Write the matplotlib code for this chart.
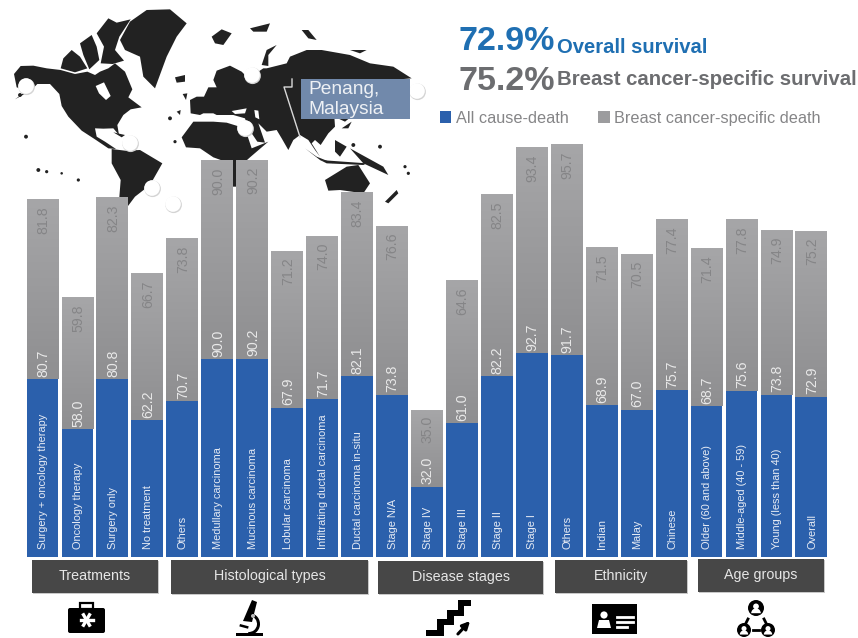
import numpy as np
import matplotlib
matplotlib.use("Agg")
import matplotlib.pyplot as plt
from matplotlib.patches import Polygon, Rectangle, Circle, FancyBboxPatch, Wedge
from matplotlib.colors import LinearSegmentedColormap

categories = ["Surgery + oncology therapy", "Oncology therapy", "Surgery only", "No treatment",
              "Others", "Medullary carcinoma", "Mucinous carcinoma", "Lobular carcinoma",
              "Infiltrating ductal carcinoma", "Ductal carcinoma in-situ",
              "Stage N/A", "Stage IV", "Stage III", "Stage II", "Stage I",
              "Others", "Indian", "Malay", "Chinese",
              "Older (60 and above)", "Middle-aged (40 - 59)", "Young (less than 40)", "Overall"]
all_cause = [80.7, 58.0, 80.8, 62.2, 70.7, 90.0, 90.2, 67.9, 71.7, 82.1,
             73.8, 32.0, 61.0, 82.2, 92.7, 91.7, 68.9, 67.0, 75.7, 68.7, 75.6, 73.8, 72.9]
breast = [81.8, 59.8, 82.3, 66.7, 73.8, 90.0, 90.2, 71.2, 74.0, 83.4,
          76.6, 35.0, 64.6, 82.5, 93.4, 95.7, 71.5, 70.5, 77.4, 71.4, 77.8, 74.9, 75.2]
series_names = ["All cause-death", "Breast cancer-specific death"]
group_names = ["Treatments", "Histological types", "Disease stages", "Ethnicity", "Age groups"]

ARIAL = ["Liberation Sans", "DejaVu Sans"]
BLUE, GREY = "#2b60ac", "#9c9c9e"
DARK = "#222222"

W, H = 858, 638
fig = plt.figure(figsize=(W / 100, H / 100), dpi=100, facecolor="white")

# Decoration layer in pixel coordinates
deco = fig.add_axes([0, 0, 1, 1], zorder=1)
deco.set_xlim(0, W); deco.set_ylim(H, 0); deco.axis("off")

def land(pts, color=DARK, z=1):
    deco.add_patch(Polygon(np.array(pts, float) / 3, closed=True, fc=color, ec="none", zorder=z))

# North America
land([(42,222),(62,198),(100,197),(140,205),(182,210),(225,222),(262,215),(285,225),(300,215),(325,205),(345,190),(375,215),(397,268),(385,292),(425,322),(392,328),(370,345),(352,375),(357,405),(340,385),(310,386),(285,385),(290,410),(315,425),(348,447),(325,445),(285,418),(245,392),(205,350),(185,318),(178,282),(150,252),(112,252),(92,272),(45,298),(80,272),(50,262)])
land([(287,258),(312,247),(332,288),(318,300),(297,280)], "white", 2)
# Arctic Canada
land([(182,205),(190,175),(215,150),(240,170),(262,205),(225,217)])
land([(240,130),(275,105),(290,140),(298,180),(268,208),(250,165)])
land([(290,100),(325,55),(350,68),(392,58),(358,110),(345,150),(372,182),(338,192),(302,190),(312,140)])
# Greenland and Iceland
land([(360,120),(390,65),(440,30),(510,28),(560,70),(530,110),(500,170),(465,265),(430,230),(420,170),(375,150)])
land([(525,232),(555,225),(555,245),(530,248)])
# Caribbean
land([(340,397),(375,405),(365,412)])
# South America
land([(335,447),(375,452),(420,450),(487,490),(450,555),(405,590),(375,630),(355,630),(362,540),(335,490)])
# Eurasia
land([(572,340),(570,300),(590,290),(612,290),(625,262),(650,262),(640,240),(650,212),(690,197),(725,215),(745,235),(790,205),(800,205),(860,190),(870,170),(920,150),(965,150),(1050,165),(1110,190),(1180,200),(1235,235),(1200,238),(1180,290),(1060,345),(1035,365),(1003,350),(1005,380),(985,400),(962,435),(945,420),(935,430),(960,470),(945,450),(925,420),(900,405),(880,420),(865,450),(845,415),(830,390),(800,395),(775,370),(795,428),(772,425),(745,385),(735,355),(700,345),(650,345),(640,340),(610,340),(600,345)])
land([(695,333),(740,325),(735,340),(705,342)], "white", 2)
land([(763,330),(775,332),(778,358),(766,352)], "white", 2)
land([(785,195),(800,150),(830,135),(805,165),(805,198)])
# Africa
land([(545,412),(580,365),(640,365),(680,368),(735,385),(755,445),(805,425),(750,472),(730,490),(735,560),(685,560),(690,490),(640,472),(600,445),(558,442)])
# Arctic islands
land([(635,110),(665,88),(695,100),(670,135),(645,130)])
land([(905,90),(925,90),(950,120),(925,115)])
land([(1050,150),(1100,150),(1080,160)])
land([(750,85),(810,70),(800,95),(760,95)])
land([(548,282),(562,280),(558,300)])
land([(530,335),(542,330),(540,345)])
# South-East Asia and Oceania
land([(915,445),(960,480),(1000,490),(950,470)])
land([(960,480),(1100,490),(1090,495),(980,490)])
land([(1005,420),(1040,440),(1020,470),(1005,455)])
land([(1050,445),(1150,500),(1165,525),(1090,490)])
land([(1025,385),(1055,365),(1045,385)])
land([(975,540),(1040,500),(1075,495),(1110,550),(1090,580),(1020,570),(985,572)])
land([(1155,605),(1190,570),(1195,580),(1165,610)])
for cx, cy, r in [(78,410,4),(115,510,4),(140,515,3),(510,355,4),(1140,440,4),(1215,500,3),(1225,520,3),(1060,435,4),(60,285,4),(525,425,3),(235,540,3),(185,520,2)]:
    deco.add_patch(Circle((cx / 3, cy / 3), r / 3 + .6, fc=DARK, ec="none", zorder=1))
for cx, cy in [(26,86),(130,143),(252,75),(245,128),(417,91),(152,188),(173,204)]:
    deco.add_patch(Circle((cx + .6, cy + .8), 8.3, fc="#d4d4d4", ec="none", zorder=3))
    deco.add_patch(Circle((cx, cy), 7.8, fc="white", ec="none", zorder=3))
deco.plot([292, 292, 284, 300], [79, 87, 87, 137], color="#d9d9d9", lw=1, zorder=4)
deco.add_patch(Rectangle((301, 79), 109, 40, fc="#7189ab", ec="none", zorder=4))
deco.text(308, 99.5, "Penang,\nMalaysia", family=ARIAL, fontsize=13.8, color="#eef1f5",
          va="center", ha="left", linespacing=1.2, zorder=5)

# Chart: one bar per category, stacked
PX_UNIT, PX_STEP, X0, BASE = 2.2, 34.95, 42.5, 557
ax = fig.add_axes([0, 0, 1, 1], zorder=2)
ax.patch.set_alpha(0)
xlim = (-X0 / PX_STEP, (W - X0) / PX_STEP)
ylim = (-(H - BASE) / PX_UNIT, BASE / PX_UNIT)
ax.axis("off")
x = np.arange(len(categories))
a = np.array(all_cause); b = np.array(breast)
b1 = ax.bar(x, a, width=0.91, color=BLUE, label=series_names[0])
b2 = ax.bar(x, b, width=0.91, bottom=a, color=GREY, label=series_names[1])
# subtle vertical shading on the grey segments, darker near the blue
shade = np.linspace(0, 1, 64).reshape(-1, 1)
grey_map = LinearSegmentedColormap.from_list("g", ["#8f8f91", "#a6a6a8"])
for i in x:
    ax.imshow(shade, extent=(i - .455, i + .455, a[i], a[i] + b[i]), origin="lower",
              cmap=grey_map, aspect="auto", zorder=1.5)
ax.set_xlim(*xlim)
ax.set_ylim(*ylim)
for i in x:
    ax.text(i + 0.02, 3.5, categories[i], rotation=90, ha="center", va="bottom",
            family=ARIAL, fontsize=7.9, color="#e6ebf4", zorder=3)
    ax.text(i + 0.02, a[i] + 1, f"{a[i]:.1f}", rotation=90, ha="center", va="bottom",
            family=ARIAL, fontsize=10.2, color="#e9e9e9", zorder=3)
    ax.text(i + 0.02, a[i] + b[i] - 3, f"{b[i]:.1f}", rotation=90, ha="center", va="top",
            family=ARIAL, fontsize=10.2, color="#858587", zorder=3)
leg = ax.legend(handles=[b1, b2], ncols=2, loc="upper left",
                bbox_to_anchor=(425 / W, 1 - 96 / H), frameon=False, handlelength=0.72,
                handleheight=0.72, handletextpad=0.28, columnspacing=1.8,
                prop={"family": ARIAL, "size": 11.7})
for t in leg.get_texts():
    t.set_color("#858587")

# Headline
BLUE_T, GREY_T = "#1f6fb2", "#6c6d70"
deco.text(458, 50, "72.9%", family=ARIAL, weight="bold", fontsize=24.5, color=BLUE_T, va="baseline")
deco.text(557, 53, "Overall survival", family=ARIAL, weight="bold", fontsize=14.6, color=BLUE_T, va="baseline")
deco.text(458, 90, "75.2%", family=ARIAL, weight="bold", fontsize=24.5, color=GREY_T, va="baseline")
deco.text(557, 85, "Breast cancer-specific survival", family=ARIAL, weight="bold", fontsize=14.7, color=GREY_T, va="baseline")

# Group boxes
boxes = [(32,158,560,593),(171,368,560,594),(378,543,561,594),(555,687,560,593),(698,824,559,592)]
for name, (x0, x1, y0, y1) in zip(group_names, boxes):
    deco.add_patch(Rectangle((x0 + .7, y0 + 1.2), x1 - x0, y1 - y0, fc="#c8c8c8", ec="none", zorder=3))
    deco.add_patch(Rectangle((x0, y0), x1 - x0, y1 - y0, fc="#474747", ec="none", zorder=3))
    deco.text((x0 + x1) / 2, (y0 + y1) / 2 - 0.8, name, family=ARIAL, fontsize=10.3, color="#e6e6e6",
              ha="center", va="center", zorder=4)

# Icons
K = "black"
deco.add_patch(FancyBboxPatch((68, 608), 37, 25, boxstyle="round,pad=0,rounding_size=2", fc=K, ec="none", zorder=3))
deco.add_patch(Rectangle((80, 603), 13, 6, fc="none", ec=K, lw=1.6, zorder=3))
for ang in (0, 60, 120):
    t = np.radians(ang)
    deco.plot([86.5 - 6 * np.cos(t), 86.5 + 6 * np.cos(t)], [620 - 6 * np.sin(t), 620 + 6 * np.sin(t)], color="white", lw=2.4, zorder=4)

deco.add_patch(Rectangle((236, 633), 27, 3, fc=K, ec="none", zorder=3))
deco.add_patch(Polygon([(252, 600), (257, 602), (252, 622), (243, 621)], fc=K, ec="none", zorder=3))
deco.add_patch(Wedge((249, 624), 11, -80, 95, width=3, fc=K, ec="none", zorder=3))
deco.add_patch(Rectangle((240, 624), 9, 2.5, angle=15, fc=K, ec="none", zorder=3))
deco.add_patch(Circle((253, 616), 2, fc="#bbbbbb", ec="none", zorder=4))

deco.add_patch(Polygon([(426,636),(426,630),(437,630),(437,619),(447,619),(447,610),(458,610),(458,600),(471,600),(471,606),(464,606),(464,616),(454,616),(454,625),(444,625),(444,636)], fc=K, ec="none", zorder=3))
deco.annotate("", xy=(472, 619), xytext=(456, 636), arrowprops=dict(arrowstyle="-|>", color=K, lw=2.2, mutation_scale=11), zorder=3)

deco.add_patch(Rectangle((592, 604), 45, 30, fc=K, ec="none", zorder=3))
deco.add_patch(Circle((604, 615), 3.6, fc="white", ec="none", zorder=4))
deco.add_patch(Polygon([(597, 628), (599, 620), (609, 620), (611, 628)], fc="white", ec="none", zorder=4))
for yy, xe in [(617, 633), (622, 633), (627, 627)]:
    deco.plot([617, xe], [yy, yy], color="white", lw=2, zorder=4)

for cx, cy, r in [(756, 608, 8), (744, 630, 7), (768, 630, 7)]:
    deco.add_patch(Circle((cx, cy), r, fc=K, ec="none", zorder=3))
    deco.add_patch(Circle((cx, cy - r * .2), r * .36, fc="white", ec="none", zorder=4))
    deco.add_patch(Wedge((cx, cy + r * .65), r * .6, 180, 360, fc="white", ec="none", zorder=4))
for (x0, y0, x1, y1) in [(748, 619, 746, 623), (764, 619, 766, 623), (753, 630, 759, 630)]:
    deco.plot([x0, x1], [y0, y1], color=K, lw=2, zorder=3)

fig.savefig("out.png", dpi=100, facecolor="white")
